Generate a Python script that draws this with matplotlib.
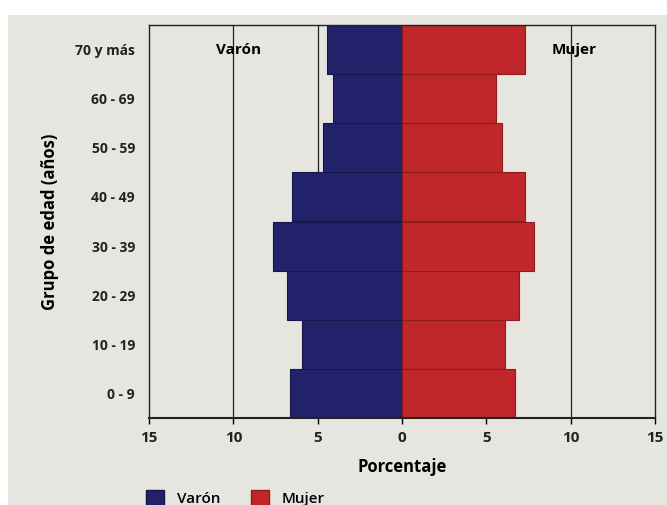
import numpy as np
import matplotlib.pyplot as plt
from matplotlib.patches import Rectangle, Patch

plt.rcParams['font.family'] = ['Open Sans', 'DejaVu Sans']

grupos = ['0 - 9', '10 - 19', '20 - 29', '30 - 39', '40 - 49', '50 - 59', '60 - 69', '70 y más']
varon = [6.65, 5.9, 6.8, 7.65, 6.5, 4.7, 4.1, 4.45]
mujer = [6.7, 6.1, 6.95, 7.8, 7.3, 5.9, 5.6, 7.3]
xticks = [-15, -10, -5, 0, 5, 10, 15]

bg = '#e7e5e0'
azul = '#21226a'
rojo = '#bf272b'

fig = plt.figure(figsize=(6.67, 5.05), dpi=100, facecolor='white')
fig.patches.append(Rectangle((8 / 667, 0), 1, 1 - 15 / 505, transform=fig.transFigure,
                             facecolor=bg, edgecolor='none', zorder=-10))
ax = fig.add_axes([149 / 667, 1 - 418 / 505, 506 / 667, 393 / 505])
ax.set_facecolor(bg)

y = np.arange(len(grupos))
for xv in [-10, -5, 5, 10]:
    ax.axvline(xv, color='#222222', lw=0.9, zorder=0)
ax.barh(y, -np.array(varon), height=1.0, color=azul, edgecolor='#15164a', lw=0.8, zorder=2)
ax.barh(y, mujer, height=1.0, color=rojo, edgecolor='#8e1c1f', lw=0.8, zorder=2)

ax.set_xlim(-15, 15)
ax.set_ylim(-0.5, len(grupos) - 0.5)
ax.set_xticks(xticks)
ax.set_xticklabels([str(abs(t)) for t in xticks], fontsize=11, fontweight='bold', color='#222222')
ax.set_yticks(y)
ax.set_yticklabels(grupos, fontsize=10, fontweight='bold', color='#222222')
ax.tick_params(axis='y', length=0, pad=10)
ax.tick_params(axis='x', length=4, width=1, direction='out', pad=5)
for s in ax.spines.values():
    s.set_color('#222222')
    s.set_linewidth(1.0)
ax.spines['bottom'].set_linewidth(1.5)

ax.set_xlabel('Porcentaje', fontsize=12, fontweight='bold', labelpad=10)
ax.set_ylabel('Grupo de edad (años)', fontsize=12, fontweight='bold', labelpad=12)

ax.text(-9.7, 7, 'Varón', ha='center', va='center', fontsize=11, fontweight='bold')
ax.text(10.2, 7, 'Mujer', ha='center', va='center', fontsize=11, fontweight='bold')

handles = [Patch(facecolor=azul, edgecolor='#15164a'), Patch(facecolor=rojo, edgecolor='#8e1c1f')]
fig.legend(handles, ['Varón', 'Mujer'], loc='upper left', bbox_to_anchor=(140 / 667, 1 - 484 / 505),
           ncol=2, frameon=False, prop={'size': 11, 'weight': 'semibold'},
           handlelength=1.2, handleheight=1.2, columnspacing=2.0, borderaxespad=0)

fig.savefig('out.png', dpi=100, facecolor=fig.get_facecolor())
